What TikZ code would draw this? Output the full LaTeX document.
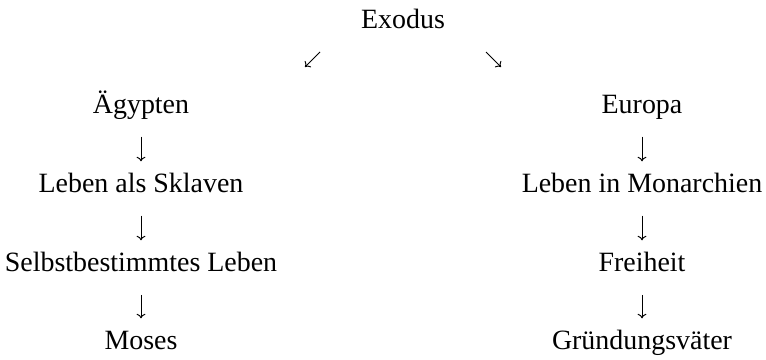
\documentclass[tikz,border=0pt]{standalone}
\usepackage{fontspec}
\setmainfont{Liberation Serif}
\usetikzlibrary{arrows.meta}
\begin{document}
\begin{tikzpicture}[x=0.02cm,y=-0.02cm,
  rotulo/.style={anchor=base,inner sep=0pt,text height=0.7em,text depth=0.25em,
    font=\fontsize{15.9pt}{19pt}\selectfont},
  seta/.style={-{To[length=2.6pt,width=5pt]},line width=0.55pt},
  vertical/.style={seta,shorten <=0.38cm,shorten >=0.36cm}]
\useasboundingbox (0,0) rectangle (766,359);
%textos
  \node[rotulo] (exodus) at (403,28) {Exodus};
  \node[rotulo] (aegypten) at (141,113) {Ägypten};
  \node[rotulo] (sklaven) at (141,192) {Leben als Sklaven};
  \node[rotulo] (selbst) at (141,271) {Selbstbestimmtes Leben};
  \node[rotulo] (moses) at (141,349) {Moses};
  \node[rotulo] (europa) at (642,113) {Europa};
  \node[rotulo] (monarchien) at (642,192) {Leben in Monarchien};
  \node[rotulo] (freiheit) at (642,271) {Freiheit};
  \node[rotulo] (vaeter) at (642,349) {Gründungsväter};
%setas diagonais
  \coordinate (esq) at (320,52);
  \coordinate (esqfim) at (305,67);
  \coordinate (dir) at (486,52);
  \coordinate (dirfim) at (501,67);
  \draw[seta] (esq) -- (esqfim);
  \draw[seta] (dir) -- (dirfim);
%setas verticais
  \draw[vertical] (aegypten) -- (sklaven);
  \draw[vertical] (sklaven) -- (selbst);
  \draw[vertical] (selbst) -- (moses);
  \draw[vertical] (europa) -- (monarchien);
  \draw[vertical] (monarchien) -- (freiheit);
  \draw[vertical] (freiheit) -- (vaeter);
\end{tikzpicture}
\end{document}
